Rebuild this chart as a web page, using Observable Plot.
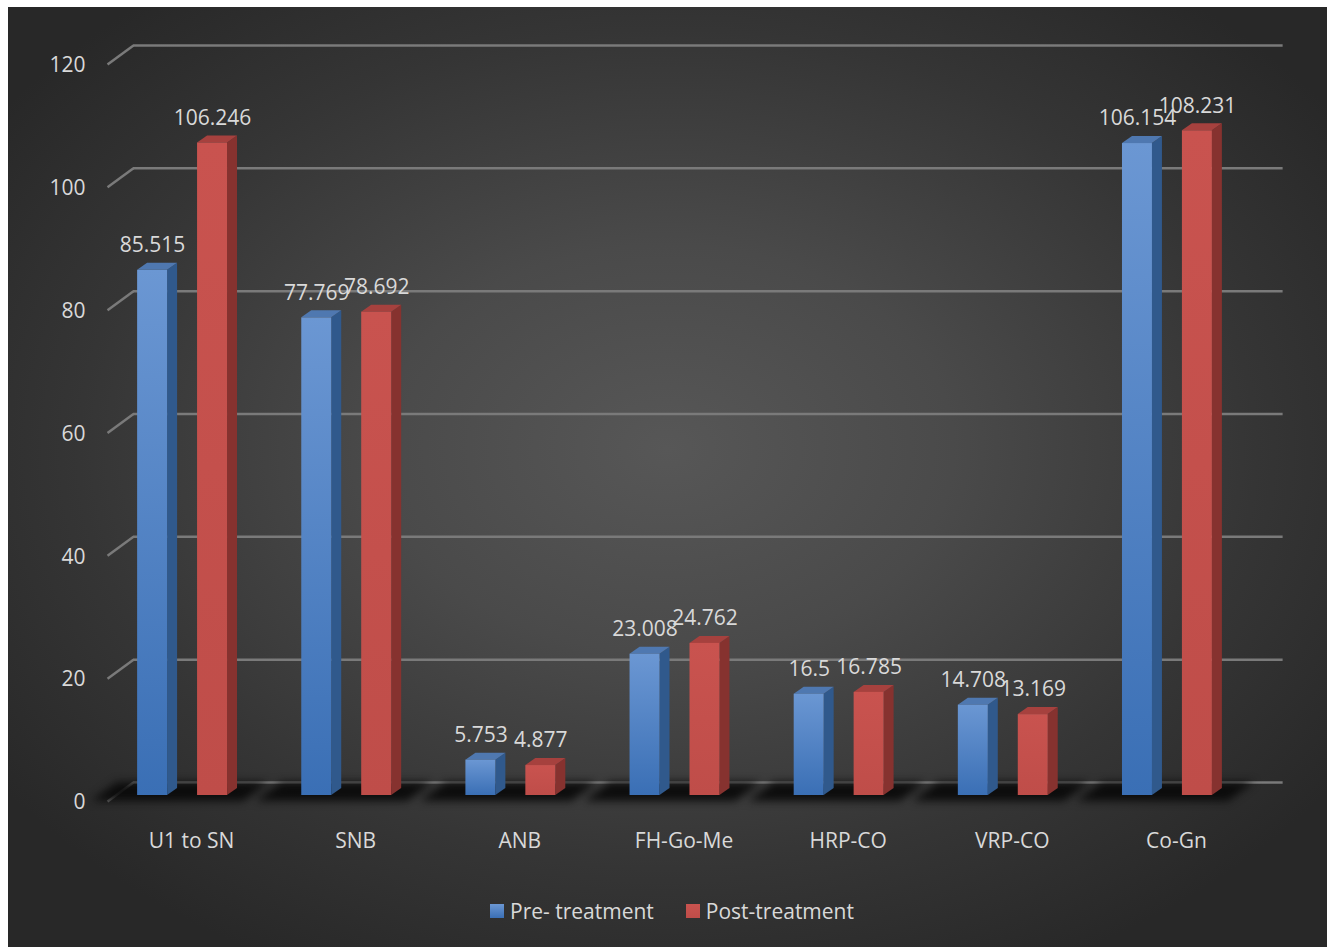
<!DOCTYPE html>
<html>
<head>
<meta charset="utf-8">
<script src="https://cdn.jsdelivr.net/npm/d3@7"></script>
<script src="https://cdn.jsdelivr.net/npm/@observablehq/plot@0.6"></script>
<style>
  html, body { margin: 0; padding: 0; background: #ffffff; }
  #panel {
    position: absolute; left: 8px; top: 7px; width: 1319px; height: 940px; overflow: hidden;
    background: radial-gradient(ellipse 62% 62% at 50% 47%, #575757 0%, #4a4a4a 35%, #353535 72%, #282828 100%);
    font-family: "Open Sans", sans-serif;
  }
  #chart { position: absolute; left: 0; top: 0; }
  #legend {
    position: absolute; left: 482px; top: 890px; display: flex; align-items: center;
    color: #d9d9d9; font-size: 21px; font-family: "Open Sans", sans-serif;
  }
  #legend .item { display: flex; align-items: center; margin-right: 32px; }
  #legend .sw { width: 14px; height: 14px; margin-right: 6px; }
</style>
</head>
<body>
<div id="panel">
  <div id="chart"></div>
  <div id="legend"></div>
</div>
<script>
// Cephalometric measurements before and after treatment
const categories = ["U1 to SN", "SNB", "ANB", "FH-Go-Me", "HRP-CO", "VRP-CO", "Co-Gn"];
const preTreatment = [85.515, 77.769, 5.753, 23.008, 16.5, 14.708, 106.154];
const postTreatment = [106.246, 78.692, 4.877, 24.762, 16.785, 13.169, 108.231];
const seriesNames = ["Pre- treatment", "Post-treatment"];
const yTicks = [0, 20, 40, 60, 80, 100, 120];

// Face colours for the pseudo-3D columns
const palette = {
  "Pre- treatment": {top: "#4f78b0", side: "#30598c", light: "#6b97d3", dark: "#3a6fb5", swatch: "#4f81bd"},
  "Post-treatment": {top: "#a6413e", side: "#86322f", light: "#c9534f", dark: "#bf4d49", swatch: "#c0504d"}
};

// Geometry in scale units (x: one unit per category, y: data value)
const W = 1319, H = 870;
const PX_X = 164.3;                 // pixels per category
const PX_Y = 6.14;                  // pixels per value unit
const BAR_W = 30 / PX_X;
const OFFSET = {"Pre- treatment": -54 / PX_X, "Post-treatment": 6 / PX_X};
const DEPTH_X = 10 / PX_X, DEPTH_Y = 7 / PX_Y;
const GRID_FRONT = -6 / PX_Y, GRID_BACK = 13 / PX_Y;
const X_FRONT = -0.512, X_BACK = -0.354, X_RIGHT = 6.65;

const bars = [];
categories.forEach((c, i) => {
  bars.push({i, series: seriesNames[0], value: preTreatment[i]});
  bars.push({i, series: seriesNames[1], value: postTreatment[i]});
});
bars.forEach((b, k) => {
  b.id = k;
  b.x1 = b.i + OFFSET[b.series];
  b.x2 = b.x1 + BAR_W;
});

// Side and top faces as parallelograms (areas between y1 and y2)
const sidePts = bars.flatMap(b => [
  {id: b.id, series: b.series, x: b.x2, y1: 0, y2: b.value},
  {id: b.id, series: b.series, x: b.x2 + DEPTH_X, y1: DEPTH_Y, y2: b.value + DEPTH_Y}
]);
const topPts = bars.flatMap(b => [
  {id: b.id, series: b.series, x: b.x1, y1: b.value, y2: b.value},
  {id: b.id, series: b.series, x: b.x1 + DEPTH_X, y1: b.value, y2: b.value + DEPTH_Y},
  {id: b.id, series: b.series, x: b.x2, y1: b.value, y2: b.value + DEPTH_Y},
  {id: b.id, series: b.series, x: b.x2 + DEPTH_X, y1: b.value + DEPTH_Y, y2: b.value + DEPTH_Y}
]);
// Floor shadow under each category group
const shadowPts = categories.flatMap((c, i) => {
  const l = i - 100 / PX_X, r = i + 52 / PX_X, d = 26 / PX_X;
  return [
    {i, x: l, y1: GRID_FRONT, y2: GRID_FRONT},
    {i, x: l + d, y1: GRID_FRONT, y2: GRID_BACK},
    {i, x: r, y1: GRID_FRONT, y2: GRID_BACK},
    {i, x: r + d, y1: GRID_BACK, y2: GRID_BACK}
  ];
});

const defs = () => {
  const g = d3.create("svg:defs");
  for (const s of seriesNames) {
    const lg = g.append("linearGradient")
      .attr("id", "grad-" + (s.startsWith("Pre") ? "pre" : "post"))
      .attr("x1", 0).attr("y1", 0).attr("x2", 0).attr("y2", 1);
    lg.append("stop").attr("offset", "0%").attr("stop-color", palette[s].light);
    lg.append("stop").attr("offset", "100%").attr("stop-color", palette[s].dark);
  }
  return g.node();
};
const gradId = s => s.startsWith("Pre") ? "url(#grad-pre)" : "url(#grad-post)";

const marks = [
  defs,
  // back wall gridlines with their perspective returns
  Plot.ruleY(yTicks, {y: d => d + GRID_BACK, x1: X_BACK, x2: X_RIGHT, stroke: "#7a7a7a", strokeWidth: 2.5}),
  Plot.link(yTicks, {x1: X_FRONT, y1: d => d + GRID_FRONT, x2: X_BACK, y2: d => d + GRID_BACK, stroke: "#7a7a7a", strokeWidth: 2.5}),
  Plot.areaY(shadowPts, {x: "x", y1: "y1", y2: "y2", z: "i", fill: "#080808", fillOpacity: 0.9, curve: "linear", imageFilter: "blur(4px)"}),
  Plot.axisY({ticks: yTicks, tickSize: 0, tickPadding: 24, dy: 7, fontSize: 21, fill: "#d9d9d9", label: null}),
  Plot.axisX({ticks: d3.range(categories.length), tickFormat: i => categories[i], tickSize: 0, tickPadding: 38, fontSize: 21, fill: "#d9d9d9", label: null})
];
for (const s of seriesNames) {
  const bs = bars.filter(b => b.series === s);
  marks.push(
    Plot.areaY(sidePts.filter(p => p.series === s), {x: "x", y1: "y1", y2: "y2", z: "id", fill: palette[s].side, curve: "linear"}),
    Plot.areaY(topPts.filter(p => p.series === s), {x: "x", y1: "y1", y2: "y2", z: "id", fill: palette[s].top, curve: "linear"}),
    Plot.rectY(bs, {x1: "x1", x2: "x2", y1: 0, y2: "value", fill: gradId(s)})
  );
}
marks.push(
  Plot.text(bars, {x: b => (b.x1 + b.x2) / 2, y: "value", text: b => String(b.value), dy: -25, lineAnchor: "middle", fontSize: 21, fill: "#d9d9d9"})
);

const chart = Plot.plot({
  width: W,
  height: H,
  marginLeft: 101,
  marginRight: 69,
  marginTop: 51,
  marginBottom: 82,
  x: {type: "linear", domain: [-0.5, 6.5]},
  y: {domain: [0, 120]},
  style: {fontFamily: "Open Sans, sans-serif", fontSize: "21px", background: "transparent", color: "#d9d9d9", overflow: "visible"},
  marks
});
document.getElementById("chart").appendChild(chart);

const legend = document.getElementById("legend");
for (const s of seriesNames) {
  const item = document.createElement("div");
  item.className = "item";
  const sw = document.createElement("div");
  sw.className = "sw";
  sw.style.background = `linear-gradient(${palette[s].light}, ${palette[s].dark})`;
  const t = document.createElement("span");
  t.textContent = s;
  item.appendChild(sw);
  item.appendChild(t);
  legend.appendChild(item);
}
</script>
</body>
</html>
